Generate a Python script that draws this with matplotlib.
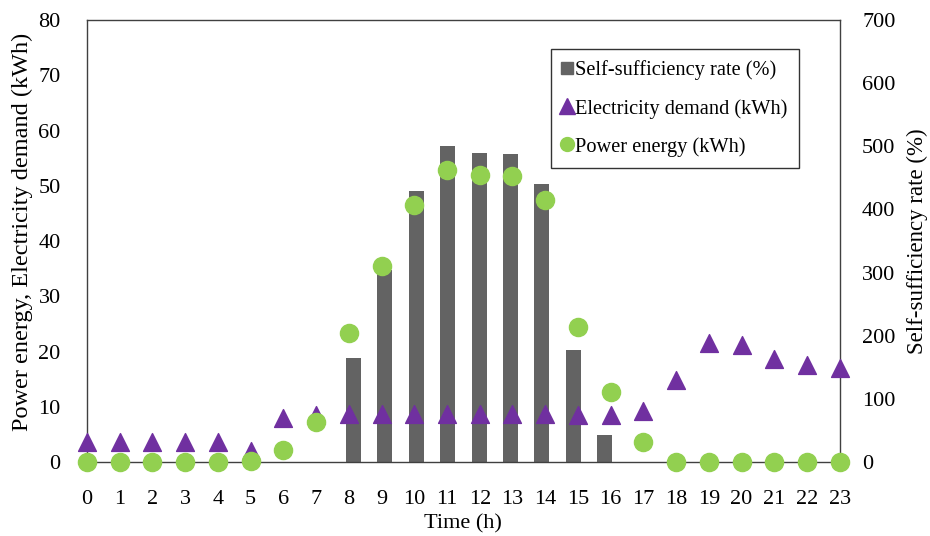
import matplotlib.pyplot as plt
import numpy as np

plt.rcParams['font.family'] = ['Liberation Serif', 'DejaVu Serif']

hours = list(range(24))
self_sufficiency = [0, 0, 0, 0, 0, 0, 0, 0, 164, 304, 430, 501, 490, 488, 440, 178,
                    43, 0, 0, 0, 0, 0, 0, 0]
electricity_demand = [3.7, 3.7, 3.7, 3.7, 3.7, 2.0, 8.0, 8.6, 8.7, 8.7, 8.7, 8.7, 8.7, 8.7,
                      8.7, 8.6, 8.6, 9.2, 14.9, 21.5, 21.1, 18.7, 17.5, 17.0]
power_energy = [0, 0, 0, 0, 0, 0.2, 2.2, 7.3, 23.3, 35.5, 46.5, 52.8, 52.0, 51.7, 47.4,
                24.4, 12.6, 3.6, 0, 0, 0, 0, 0, 0]

fig = plt.figure(figsize=(9.3, 5.36), dpi=100)
rect = [0.0935, 0.138, 0.8095, 0.8245]

# bars sit on a category axis (24 slots), markers on a value axis (0..23)
ax_bar = fig.add_axes(rect)
ax_bar.bar(np.array(hours), self_sufficiency, width=0.48, color='#636363', zorder=1)
ax_bar.set_xlim(-0.5, 23.5)
ax_bar.set_ylim(0, 700)
ax_bar.axis('off')

ax = fig.add_axes(rect)
ax.patch.set_alpha(0)
ax.scatter(hours, electricity_demand, marker='^', s=165, color='#7030A0', zorder=3, clip_on=False)
ax.scatter(hours, power_energy, marker='o', s=170, color='#92D050', zorder=4, clip_on=False)
ax.set_xlim(0, 23)
ax.set_ylim(0, 80)
ax.set_xticks(hours)
ax.set_yticks(range(0, 81, 10))
ax.tick_params(length=0, labelsize=16)
ax.tick_params(axis='x', pad=20)
ax.tick_params(axis='y', pad=19)
ax.set_xlabel('Time (h)', fontsize=16, labelpad=4)
ax.set_ylabel('Power energy, Electricity demand (kWh)', fontsize=17.5)
ax.yaxis.set_label_coords(-0.0717, 0.52)
for s in ax.spines.values():
    s.set_color('#404040')
    s.set_linewidth(1.0)

ax2 = ax.twinx()
ax2.set_ylim(0, 700)
ax2.set_yticks(range(0, 701, 100))
ax2.tick_params(length=0, labelsize=16, pad=16)
ax2.set_ylabel('Self-sufficiency rate (%)', fontsize=16.5, labelpad=8)
for s in ax2.spines.values():
    s.set_visible(False)

h1 = plt.Line2D([], [], marker='s', ls='', color='#636363', markersize=8)
h2 = plt.Line2D([], [], marker='^', ls='', color='#7030A0', markersize=11)
h3 = plt.Line2D([], [], marker='o', ls='', color='#92D050', markersize=10)
leg = ax2.legend([h1, h2, h3],
                 ['Self-sufficiency rate (%)', 'Electricity demand (kWh)', 'Power energy (kWh)'],
                 loc='upper right', bbox_to_anchor=(0.9456, 0.934), fontsize=14.7,
                 frameon=True, fancybox=False, edgecolor='#000000', handlelength=0.5,
                 handletextpad=0.15, labelspacing=0.9, borderpad=0.55, borderaxespad=0)
leg.get_frame().set_linewidth(1.0)

fig.savefig('out.png', dpi=100)
